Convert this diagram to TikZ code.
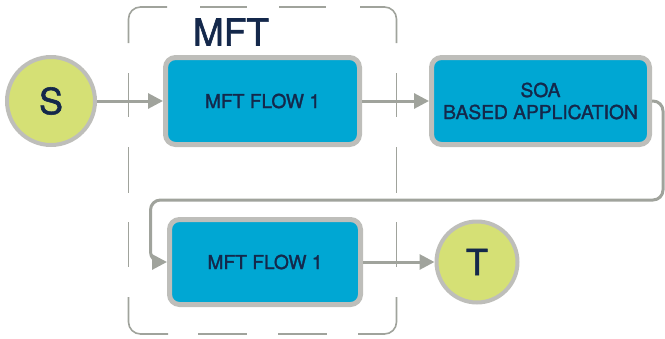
\documentclass[tikz,border=0pt]{standalone}
\usepackage{fontspec}
\setmainfont{TeX Gyre Heros}
\newfontfamily\medfont{TeX Gyre Heros}[FakeBold=1.6]
\usetikzlibrary{arrows.meta}
\definecolor{boxblue}{HTML}{00A7D3}
\definecolor{nodegreen}{HTML}{D5E075}
\definecolor{bordergray}{HTML}{BEBEBA}
\definecolor{linegray}{HTML}{A0A39C}
\definecolor{navy}{HTML}{14284B}
\tikzset{
  flowbox/.style={rectangle, rounded corners=10pt, draw=bordergray, line width=5pt, fill=boxblue,
    text=navy, font=\medfont\fontsize{19.2}{22}\selectfont, align=center, inner sep=0pt},
  endnode/.style={circle, draw=bordergray, line width=4pt, fill=nodegreen, text=navy,
    font=\medfont\fontsize{36}{40}\selectfont, inner sep=0pt},
  conn/.style={draw=linegray, line width=3pt, -{Triangle[length=15pt,width=15pt]}},
  grouppart/.style={draw=linegray, line width=1.6pt}
}
\begin{document}
\begin{tikzpicture}[x=1pt,y=-1pt]
\useasboundingbox (0,0) rectangle (665,338);
% dashed group frame, drawn dash by dash
\draw[grouppart, rounded corners=12pt] (128.5,43) -- (128.5,7) -- (167,7);
\draw[grouppart, rounded corners=12pt] (360,7) -- (396.5,7) -- (396.5,43);
\draw[grouppart, rounded corners=12pt] (128.5,297) -- (128.5,334) -- (168,334);
\draw[grouppart, rounded corners=12pt] (358,334) -- (396.5,334) -- (396.5,297);
\foreach \a/\b in {200/247, 279/326} {
  \draw[grouppart] (\a,7) -- (\b,7);
}
\foreach \a/\b in {198/247, 278/327} {
  \draw[grouppart] (\a,334) -- (\b,334);
}
\foreach \a/\b in {73/117, 147/193, 222/267} {
  \draw[grouppart] (128.5,\a) -- (128.5,\b);
  \draw[grouppart] (396.5,\a) -- (396.5,\b);
}
\node[text=navy, font=\medfont\fontsize{37}{40}\selectfont] (mftlabel) at (231,32) {MFT};
\node[endnode, minimum size=88pt] (s) at (51,101) {S};
\node[flowbox, minimum width=194pt, minimum height=87pt] (f1) at (262.5,101) {MFT FLOW 1};
\node[flowbox, minimum width=218pt, minimum height=87pt] (soa) at (540.5,101) {SOA\\BASED APPLICATION};
\node[flowbox, minimum width=191pt, minimum height=85pt] (f2) at (265,262) {MFT FLOW 1};
\node[endnode, minimum size=81pt] (t) at (477,262) {T};
\draw[conn] (s) -- (f1);
\draw[conn] (f1) -- (soa);
\draw[conn, rounded corners=10pt] (soa.east) -- (663,101) -- (663,200) -- (150.5,200) -- (150.5,262) -- (f2.west);
\draw[conn] (f2) -- (t);
\end{tikzpicture}
\end{document}
